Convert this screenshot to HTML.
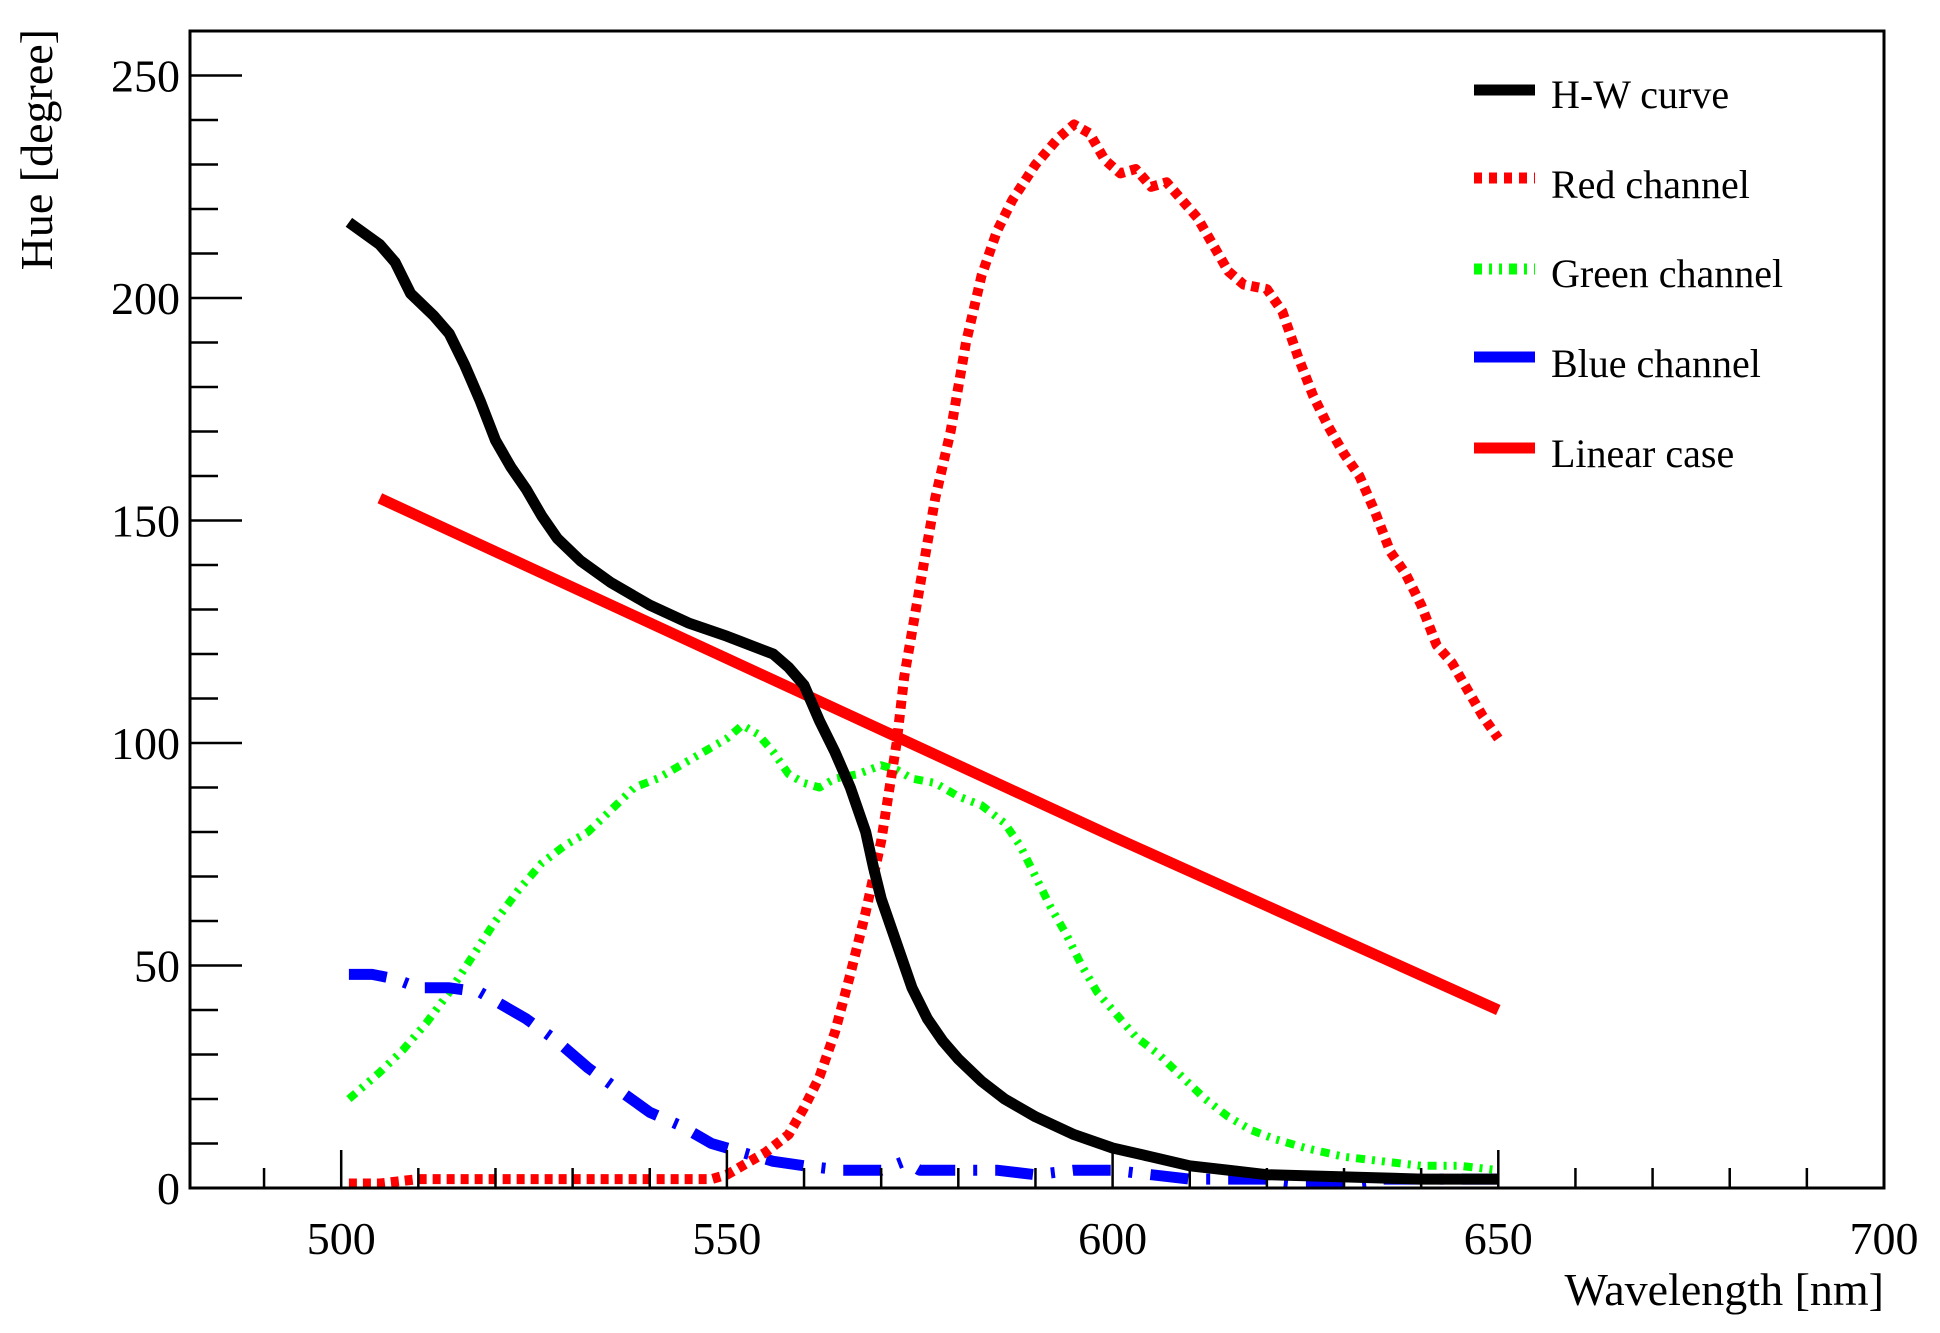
<!DOCTYPE html>
<html><head><meta charset="utf-8"><style>
html,body{margin:0;padding:0;background:#fff;}
svg{display:block;font-family:"Liberation Serif",serif;}
</style></head><body>
<svg id="chart" width="1940" height="1333" viewBox="0 0 1940 1333">
<g id="marks"></g>
<rect x="190" y="31" width="1694" height="1157" fill="none" stroke="#000" stroke-width="3"/>
<g id="axes"></g>
<text x="1884" y="1305" text-anchor="end" font-size="46">Wavelength [nm]</text>
<text transform="translate(52,29) rotate(-90)" text-anchor="end" font-size="46">Hue [degree]</text>
<g>
<g><line x1="1474" y1="90" x2="1535" y2="90" stroke="#000" stroke-width="11"/><text x="1551" y="108" font-size="40">H-W curve</text></g>
<g><line x1="1474" y1="178" x2="1535" y2="178" stroke="#f00" stroke-width="11" stroke-dasharray="8 7"/><text x="1551" y="198" font-size="40">Red channel</text></g>
<g><line x1="1474" y1="269" x2="1535" y2="269" stroke="#0f0" stroke-width="11" stroke-dasharray="8 7 3 7 3 7"/><text x="1551" y="287" font-size="40">Green channel</text></g>
<g><line x1="1474" y1="357" x2="1535" y2="357" stroke="#00f" stroke-width="11"/><text x="1551" y="377" font-size="40">Blue channel</text></g>
<g><line x1="1474" y1="448" x2="1535" y2="448" stroke="#f00" stroke-width="11"/><text x="1551" y="467" font-size="40">Linear case</text></g>
</g>
</svg>
<script>
const hwX=[501,505,507,509,512,514,516,518,520,522,524,526,528,531,535,540,545,550,553,556,558,560,562,564,566,568,569,570,572,574,576,578,580,583,586,590,595,600,605,610,615,620,630,640,650];
const hwY=[217,212,208,201,196,192,185,177,168,162,157,151,146,141,136,131,127,124,122,120,117,113,105,98,90,80,72,65,55,45,38,33,29,24,20,16,12,9,7,5,4,3,2.5,2,2];
const redX=[501,505,510,520,530,540,548,550,552,555,558,560,562,564,566,568,570,572,573,575,577,579,581,583,585,587,590,593,595,597,599,601,603,605,607,609,611,613,615,617,620,622,624,626,628,630,632,634,636,638,640,642,644,646,648,650];
const redY=[1,1,2,2,2,2,2,3,5,8,12,18,25,35,48,62,78,100,115,135,155,170,190,205,215,222,230,236,239,237,231,228,229,225,226,222,218,212,206,203,202,197,187,178,171,165,160,152,143,138,131,122,118,112,106,101];
const greenX=[501,505,508,511,514,517,520,523,526,529,532,535,538,541,544,547,550,552,554,556,558,560,562,564,567,570,572,574,577,580,583,586,588,590,592,594,596,598,600,603,606,609,612,615,618,621,625,630,635,640,645,650];
const greenY=[20,26,31,37,44,52,60,67,73,77,80,85,90,92,95,98,101,104,102,98,93,91,90,92,93,95,94,92,91,88,86,82,77,70,63,57,50,44,40,34,30,25,20,16,13,11,9,7,6,5,5,4];
const blueX=[501,504,507,510,514,518,520,524,528,532,536,540,544,548,552,556,560,565,570,573,575,580,585,590,595,600,605,610,615,620,625,630,635,640,645,650];
const blueY=[48,48,47,45,45,44,42,38,33,27,22,17,14,10,8,6,5,4,4,6,4,4,4,3,4,4,3,2,2,2,1,1,2,2,2,2];
const linX=[505,550,600,650];
const linY=[155,119,79,40];
const xTicks=[500,550,600,650,700];
const yTicks=[0,50,100,150,200,250];
const X0=190,X1=1884,Y0=1188,Y1=31,XMIN=480.4,XMAX=700,YMIN=0,YMAX=260;
const sx=v=>X0+(v-XMIN)/(XMAX-XMIN)*(X1-X0);
const sy=v=>Y0-(v-YMIN)/(YMAX-YMIN)*(Y0-Y1);
const NS='http://www.w3.org/2000/svg';
const marks=document.getElementById('marks'),axes=document.getElementById('axes');
function series(xs,ys,color,w,dash,name){
  const p=document.createElementNS(NS,'polyline');
  p.setAttribute('points',xs.map((x,i)=>sx(x).toFixed(1)+','+sy(ys[i]).toFixed(1)).join(' '));
  p.setAttribute('fill','none');p.setAttribute('stroke',color);p.setAttribute('stroke-width',w);
  p.setAttribute('stroke-linejoin','round');
  if(dash)p.setAttribute('stroke-dasharray',dash);
  
  
  marks.appendChild(p);
}
series(linX,linY,'#f00',11,null,'linear-case-line');
series(greenX,greenY,'#0f0',8,'9 7 3 7 3 7','green-channel-line');
series(blueX,blueY,'#00f',11,'38 18 4 18','blue-channel-line');
series(redX,redY,'#f00',10,'8 6','red-channel-line');
series(hwX,hwY,'#000',11,null,'hw-curve-line');
function ln(x1,y1,x2,y2,name){
  const l=document.createElementNS(NS,'line');
  l.setAttribute('x1',x1);l.setAttribute('y1',y1);l.setAttribute('x2',x2);l.setAttribute('y2',y2);
  l.setAttribute('stroke','#000');l.setAttribute('stroke-width',2.5);
  
  
  axes.appendChild(l);
}
function tx(x,y,s,anchor,name){
  const t=document.createElementNS(NS,'text');
  t.setAttribute('x',x);t.setAttribute('y',y);t.setAttribute('text-anchor',anchor);t.setAttribute('font-size',46);
  t.textContent=s;
  
  
  axes.appendChild(t);
}
for(let v=490;v<=700;v+=10){
  const major=v%50===0;
  ln(sx(v),Y0,sx(v),Y0-(major?38:20),'x-tick');
}
for(let v=0;v<=260;v+=10){
  const major=v%50===0;
  ln(X0,sy(v),X0+(major?52:28),sy(v),'y-tick');
}
xTicks.forEach(v=>tx(sx(v),1254,String(v),'middle','x-tick-label'));
yTicks.forEach(v=>tx(180,sy(v)+16,String(v),'end','y-tick-label'));
</script>
</body></html>
